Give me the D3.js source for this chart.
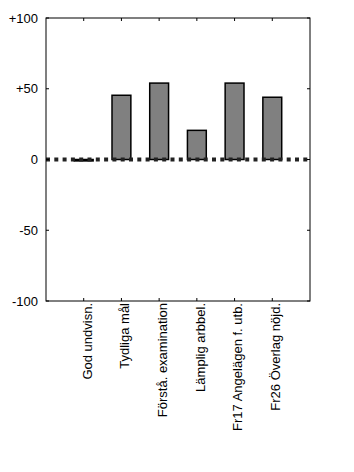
<!DOCTYPE html>
<html><head><meta charset="utf-8">
<script src="https://cdn.jsdelivr.net/npm/d3@7"></script>
<style>body{margin:0;background:#fff}svg{display:block}text{font-family:"Liberation Sans",Arial,sans-serif}</style>
</head><body><svg id="c" width="354" height="472"></svg>
<script>
const categories = ["God undvisn.","Tydliga mål","Förstå. examination","Lämplig arbbel.","Fr17 Angelägen f. utb.","Fr26 Överlag nöjd."];
const values = [-1, 45.4, 54, 20.6, 54, 44];
const yTicks = [-100,-50,0,50,100];
const yTickLabels = ["-100","-50","0","+50","+100"];

const svg = d3.select("#c");
const L=46, R=310, T=18, B=301;
const x = d3.scaleLinear().domain([0,7]).range([L,R]);
const y = d3.scaleLinear().domain([-100,100]).range([B,T]);
const bw = x(0.5)-x(0);

// bars
svg.selectAll("rect.bar").data(values).join("rect")
  .attr("x",(d,i)=>x(i+1)-bw/2)
  .attr("y",d=>y(Math.max(0,d)))
  .attr("width",bw)
  .attr("height",d=>Math.abs(y(d)-y(0)))
  .attr("fill","#808080").attr("stroke","#000").attr("stroke-width",1.5);

// zero dotted line
svg.append("line").attr("x1",x(0)).attr("x2",x(7)).attr("y1",y(0)).attr("y2",y(0))
  .attr("stroke","#222").attr("stroke-width",4).attr("stroke-dasharray","4,4.3");

// box
svg.append("rect").attr("x",L).attr("y",T).attr("width",R-L).attr("height",B-T)
  .attr("fill","none").attr("stroke","#000").attr("stroke-width",1);

// y ticks (inward) left and right
yTicks.forEach((t,i)=>{
  svg.append("line").attr("x1",L).attr("x2",L+3).attr("y1",y(t)).attr("y2",y(t)).attr("stroke","#000");
  svg.append("line").attr("x1",R).attr("x2",R-3).attr("y1",y(t)).attr("y2",y(t)).attr("stroke","#000");
  svg.append("text").attr("x",L-8).attr("y",y(t)).attr("dy","0.35em").attr("text-anchor","end")
    .attr("font-size",13).attr("fill","#000").text(yTickLabels[i]);
});
// x ticks top and bottom
categories.forEach((c,i)=>{
  const xx = x(i+1);
  svg.append("line").attr("x1",xx).attr("x2",xx).attr("y1",B).attr("y2",B-3).attr("stroke","#000");
  svg.append("line").attr("x1",xx).attr("x2",xx).attr("y1",T).attr("y2",T+3).attr("stroke","#000");
  svg.append("text").attr("transform",`translate(${xx},${B+2}) rotate(-90)`)
    .attr("text-anchor","end").attr("dy","0.6em").attr("font-size",13).attr("fill","#000").text(c);
});
</script></body></html>
